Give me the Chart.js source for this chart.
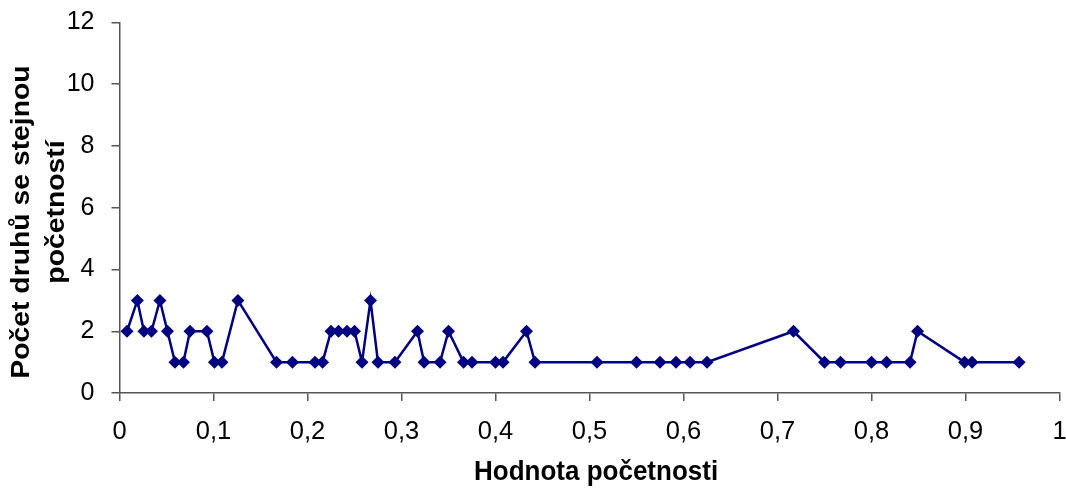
<!DOCTYPE html>
<html>
<head>
<meta charset="utf-8">
<script src="https://cdn.jsdelivr.net/npm/chart.js@4/dist/chart.umd.min.js"></script>
<style>
  html, body { margin: 0; padding: 0; background: #fff; }
  #wrap { width: 1066px; height: 488px; }
</style>
</head>
<body>
<div id="wrap"><canvas id="c" width="1066" height="488"></canvas></div>
<script>
// Hodnota početnosti (x) a počet druhů se stejnou početností (y)
const frequencyValues = [
  0.008, 0.019, 0.026, 0.034, 0.043, 0.051, 0.059, 0.068, 0.075, 0.093,
  0.101, 0.109, 0.126, 0.167, 0.184, 0.208, 0.216, 0.225, 0.233, 0.242,
  0.250, 0.258, 0.267, 0.275, 0.293, 0.317, 0.324, 0.341, 0.350, 0.366,
  0.375, 0.400, 0.408, 0.433, 0.442, 0.508, 0.550, 0.575, 0.592, 0.607,
  0.625, 0.717, 0.750, 0.767, 0.800, 0.816, 0.841, 0.849, 0.899, 0.907,
  0.957
];
const speciesCounts = [
  2, 3, 2, 2, 3, 2, 1, 1, 2, 2,
  1, 1, 3, 1, 1, 1, 1, 2, 2, 2,
  2, 1, 3, 1, 1, 2, 1, 1, 2, 1,
  1, 1, 1, 2, 1, 1, 1, 1, 1, 1,
  1, 2, 1, 1, 1, 1, 1, 2, 1, 1,
  1
];
const yTitleLines = ['Počet druhů se stejnou', 'početností'];
const xTitleText = 'Hodnota početnosti';

const points = frequencyValues.map((x, i) => ({ x: x, y: speciesCounts[i] }));

const navy = '#000080';
const axisGray = '#555555';
const fontFamily = '"Liberation Sans", Arial, sans-serif';

// Axis titles drawn next to the scales, each line placed on its own
const axisTitles = {
  id: 'axisTitles',
  afterDraw(chart) {
    const ctx = chart.ctx;
    const area = chart.chartArea;
    ctx.save();
    ctx.fillStyle = '#000';
    ctx.font = 'bold 26px ' + fontFamily;
    ctx.textAlign = 'center';

    // x title, centred under the tick labels
    ctx.save();
    ctx.textBaseline = 'alphabetic';
    ctx.translate(area.left + (area.right - area.left) * 0.507, 480);
    ctx.scale(1, 1.08);
    ctx.fillText(xTitleText, 0, 0);
    ctx.restore();

    // y title, two rotated lines
    ctx.textBaseline = 'middle';
    const linePos = [[22, 222], [56.5, 212]];
    yTitleLines.forEach((line, i) => {
      ctx.save();
      ctx.translate(linePos[i][0], linePos[i][1]);
      ctx.rotate(-Math.PI / 2);
      ctx.scale(1.09, 1);
      ctx.fillText(line, 0, 0);
      ctx.restore();
    });
    ctx.restore();
  }
};

new Chart(document.getElementById('c'), {
  type: 'scatter',
  data: {
    datasets: [{
      data: points,
      showLine: true,
      borderColor: navy,
      backgroundColor: navy,
      borderWidth: 2.5,
      pointStyle: 'rectRot',
      pointRadius: 6.5,
      pointHoverRadius: 6.5,
      pointBorderWidth: 0
    }]
  },
  plugins: [axisTitles],
  options: {
    responsive: false,
    animation: false,
    layout: { padding: { top: 22.5, right: 6, left: 0, bottom: 0 } },
    plugins: { legend: { display: false }, tooltip: { enabled: false } },
    scales: {
      x: {
        type: 'linear',
        min: 0,
        max: 1,
        afterFit: s => { s.height = 95; s.paddingLeft = 0; s.paddingRight = 0; },
        border: { color: axisGray, width: 1.5 },
        grid: { drawOnChartArea: false, drawTicks: true, tickLength: 8, color: axisGray, lineWidth: 1.5 },
        ticks: {
          stepSize: 0.1,
          padding: 16,
          color: '#000',
          font: { family: fontFamily, size: 25.5 },
          callback: v => (Math.round(v * 10) / 10).toString().replace('.', ',')
        },
        title: { display: false }
      },
      y: {
        type: 'linear',
        min: 0,
        max: 12,
        afterFit: s => { s.width = 119.5; s.paddingTop = 0; s.paddingBottom = 0; },
        border: { color: axisGray, width: 1.5 },
        grid: { drawOnChartArea: false, drawTicks: true, tickLength: 8, color: axisGray, lineWidth: 1.5 },
        ticks: {
          stepSize: 2,
          padding: 17,
          color: '#000',
          font: { family: fontFamily, size: 25 }
        },
        title: { display: false }
      }
    }
  }
});
</script>
</body>
</html>
